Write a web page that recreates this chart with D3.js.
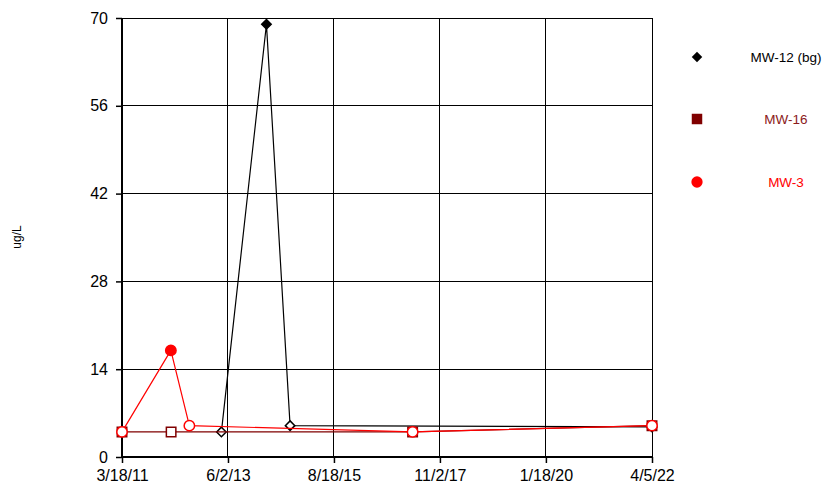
<!DOCTYPE html>
<html>
<head>
<meta charset="utf-8">
<script src="https://cdn.jsdelivr.net/npm/d3@7/dist/d3.min.js"></script>
<style>
  html, body { margin: 0; padding: 0; background: #fff; }
  svg { display: block; font-family: "Liberation Sans", Arial, sans-serif; }
</style>
</head>
<body>
<svg id="chart" width="823" height="490"></svg>
<script>
// ---- data ----
const xTickLabels = ["3/18/11", "6/2/13", "8/18/15", "11/2/17", "1/18/20", "4/5/22"];
const yTickValues = [0, 14, 28, 42, 56, 70];

const mw12Dates  = ["2013-04-13", "2014-03-22", "2014-09-18", "2022-04-05"];
const mw12Values = [4, 69, 5, 4.8];
const mw12Detect = [false, true, false, false];

const mw16Dates  = ["2011-03-18", "2012-03-26", "2017-04-08", "2022-04-05"];
const mw16Values = [4, 4, 4, 5];
const mw16Detect = [false, false, false, false];

const mw3Dates   = ["2011-03-18", "2012-03-24", "2012-08-12", "2017-04-08", "2022-04-05"];
const mw3Values  = [4, 17, 5, 4, 5];
const mw3Detect  = [false, true, false, false, false];

const seriesNames = ["MW-12 (bg)", "MW-16", "MW-3"];

// ---- layout ----
const margin = { left: 122, top: 18, right: 652, bottom: 457 };
const parseTick = d3.utcParse("%m/%d/%y");
const parseISO = d3.utcParse("%Y-%m-%d");
const tickDates = xTickLabels.map(parseTick);

const x = d3.scaleUtc()
  .domain([tickDates[0], tickDates[tickDates.length - 1]])
  .range([margin.left, margin.right]);
const y = d3.scaleLinear().domain([0, 70]).range([margin.bottom, margin.top]);

const svg = d3.select("#chart");

// square diamond symbol (rotated square)
const diamond = {
  draw(context, size) {
    const r = Math.sqrt(size / 2);
    context.moveTo(0, -r);
    context.lineTo(r, 0);
    context.lineTo(0, r);
    context.lineTo(-r, 0);
    context.closePath();
  }
};

// gridlines
const grid = svg.append("g");
grid.selectAll("line.h").data(yTickValues.filter(v => v > 0)).enter().append("line")
  .attr("x1", margin.left).attr("x2", margin.right)
  .attr("y1", d => y(d)).attr("y2", d => y(d))
  .attr("stroke", "#000").attr("stroke-width", 1).attr("shape-rendering", "crispEdges");
grid.selectAll("line.v").data(tickDates.slice(1)).enter().append("line")
  .attr("x1", d => x(d)).attr("x2", d => x(d))
  .attr("y1", margin.top).attr("y2", margin.bottom)
  .attr("stroke", "#000").attr("stroke-width", 1).attr("shape-rendering", "crispEdges");

// axes
const xAxis = d3.axisBottom(x).tickValues(tickDates)
  .tickFormat((d, i) => xTickLabels[i]).tickSize(6).tickPadding(7);
const yAxis = d3.axisLeft(y).tickValues(yTickValues).tickSize(6).tickPadding(8);

const gx = svg.append("g").attr("transform", `translate(0,${margin.bottom})`).call(xAxis);
const gy = svg.append("g").attr("transform", `translate(${margin.left},0)`).call(yAxis);
[gx, gy].forEach(g => {
  g.select(".domain").attr("stroke", "#000").attr("stroke-width", 2);
  g.selectAll(".tick line").attr("stroke", "#000").attr("stroke-width", 1.5);
  g.selectAll(".tick text").attr("fill", "#000")
    .style("font-family", "'Liberation Sans', Arial, sans-serif").style("font-size", "16px");
});
gx.select(".domain").attr("d", `M${margin.left},0H${margin.right}`);
gy.select(".domain").attr("d", `M0,${margin.bottom}V${margin.top}`);

// y label
svg.append("text")
  .attr("transform", `translate(21,237) rotate(-90)`)
  .attr("text-anchor", "middle")
  .style("font-size", "12px").attr("fill", "#000")
  .text("ug/L");

// series
const series = [
  { name: seriesNames[0], dates: mw12Dates, values: mw12Values, detect: mw12Detect, color: "#000000", shape: diamond, size: 45 },
  { name: seriesNames[1], dates: mw16Dates, values: mw16Values, detect: mw16Detect, color: "#800000", shape: d3.symbolSquare, size: 90 },
  { name: seriesNames[2], dates: mw3Dates,  values: mw3Values,  detect: mw3Detect,  color: "#ff0000", shape: d3.symbolCircle, size: 85 }
];

const line = d3.line().x(d => x(d.date)).y(d => y(d.value));

series.forEach(s => {
  const pts = s.dates.map((d, i) => ({ date: parseISO(d), value: s.values[i], detect: s.detect[i] }));
  const g = svg.append("g");
  g.append("path").datum(pts).attr("d", line)
    .attr("fill", "none").attr("stroke", s.color).attr("stroke-width", 1.2);
  g.selectAll("path.m").data(pts).enter().append("path")
    .attr("class", "m")
    .attr("transform", d => `translate(${x(d.date)},${y(d.value)})`)
    .attr("d", d3.symbol().type(s.shape).size(s.size))
    .attr("fill", d => d.detect ? s.color : "#fff")
    .attr("stroke", s.color).attr("stroke-width", 1.5);
});

// legend
const legY = [57, 119, 182];
const legendSizes = [55, 110, 100];
series.forEach((s, i) => {
  svg.append("path")
    .attr("transform", `translate(697,${legY[i]})`)
    .attr("d", d3.symbol().type(s.shape).size(legendSizes[i]))
    .attr("fill", s.color);
  svg.append("text")
    .attr("x", 786).attr("y", legY[i]).attr("dy", "0.35em")
    .attr("text-anchor", "middle")
    .style("font-size", "13.5px")
    .attr("fill", s.color === "#800000" ? "#8b1a1a" : s.color)
    .text(s.name);
});
</script>
</body>
</html>
